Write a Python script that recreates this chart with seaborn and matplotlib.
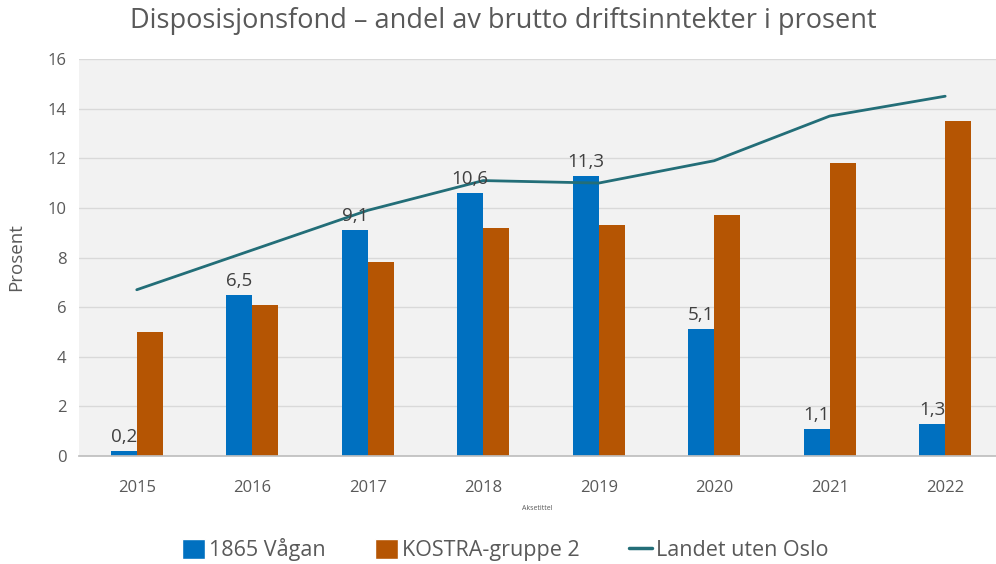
import matplotlib
matplotlib.use("Agg")
import matplotlib.pyplot as plt
import seaborn as sns
import pandas as pd
import numpy as np
from matplotlib.patches import Patch
from matplotlib.lines import Line2D

years = ["2015", "2016", "2017", "2018", "2019", "2020", "2021", "2022"]
vagan = [0.2, 6.5, 9.1, 10.6, 11.3, 5.1, 1.1, 1.3]
kostra = [5.0, 6.1, 7.8, 9.2, 9.3, 9.7, 11.8, 13.5]
landet = [6.7, 8.3, 9.9, 11.1, 11.0, 11.9, 13.7, 14.5]
series_names = ["1865 Vågan", "KOSTRA-gruppe 2", "Landet uten Oslo"]

c_blue = "#0070C0"
c_orange = "#B55503"
c_line = "#236E78"
c_text = "#595959"

sns.set_theme(style="white")
plt.rcParams['font.family'] = ['Open Sans', 'DejaVu Sans']

df = pd.DataFrame({
    "year": years * 2,
    "value": vagan + kostra,
    "series": [series_names[0]] * len(years) + [series_names[1]] * len(years),
})

fig = plt.figure(figsize=(9.96, 5.64), dpi=100)
ax = fig.add_axes([79 / 996, 1 - 456 / 564, 1 - 79 / 996, (456 - 59) / 564])
ax.set_facecolor("#F2F2F2")

sns.barplot(data=df, x="year", y="value", hue="series", order=years,
            hue_order=series_names[:2], palette=[c_blue, c_orange],
            width=0.45, ax=ax, legend=False, saturation=1, linewidth=0)
sns.lineplot(x=np.arange(len(years)), y=landet, color=c_line, linewidth=2, ax=ax)

# data labels on the blue bars
for bar, v in zip(ax.patches[:len(years)], vagan):
    ax.text(bar.get_x() + bar.get_width() / 2, v + 0.2, f"{v:.1f}".replace(".", ","),
            ha="center", va="bottom", fontsize=13.5, color="#404040")

ax.set_ylim(0, 16)
ax.set_xlim(-0.5, 7.44)
ax.set_yticks(range(0, 17, 2))
ax.yaxis.grid(True, color="#D9D9D9", linewidth=1)
ax.set_axisbelow(True)
for s in ["top", "right", "left"]:
    ax.spines[s].set_visible(False)
ax.spines["bottom"].set_color("#BFBFBF")
ax.tick_params(axis="both", length=0, labelsize=12, colors=c_text)
ax.tick_params(axis="x", pad=17)
ax.tick_params(axis="y", pad=9)
ax.set_xlabel("Aksetittel", fontsize=5, color=c_text, labelpad=7)
ax.set_ylabel("Prosent", fontsize=13.5, color=c_text, labelpad=16)

fig.text(0.505, 0.963, "Disposisjonsfond – andel av brutto driftsinntekter i prosent",
         ha="center", va="center", fontsize=19.5, color=c_text)

handles = [Patch(facecolor=c_blue), Patch(facecolor=c_orange),
           Line2D([0], [0], color=c_line, linewidth=2.5)]
leg = fig.legend(handles, series_names, loc="center", bbox_to_anchor=(0.507, 0.025),
                 ncol=3, frameon=False, fontsize=15.5, handlelength=1.1, handleheight=1.0,
                 handletextpad=0.15, columnspacing=2.3)
for t in leg.get_texts():
    t.set_color(c_text)

fig.savefig("out.png", dpi=100)
